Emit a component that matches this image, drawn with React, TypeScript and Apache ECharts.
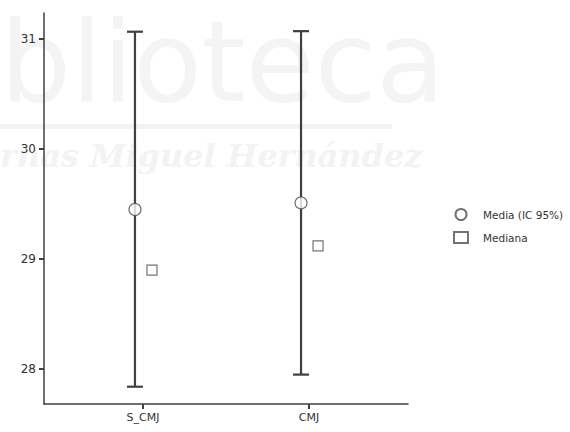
import React, { useEffect, useRef } from "react";
import * as echarts from "echarts";

const categories = ["S_CMJ", "CMJ"];
const ciLow = [27.84, 27.95];
const ciHigh = [31.065, 31.07];
const means = [29.45, 29.51];
const medians = [28.9, 29.12];
const yTicks = [28, 29, 30, 31];

const FONT = "DejaVu Sans";
const DARK = "#404040";

export default function App() {
  const ref = useRef<HTMLDivElement>(null);
  useEffect(() => {
    if (!ref.current) return;
    const chart = echarts.init(ref.current, undefined, { renderer: "svg" });
    const idx = categories.map((_, i) => i);
    chart.setOption({
      animation: false,
      backgroundColor: "#ffffff",
      textStyle: { fontFamily: FONT },
      graphic: [
        {
          type: "text",
          left: 0,
          top: 6,
          z: -10,
          silent: true,
          style: { text: "blioteca", fontSize: 112, fontFamily: "DejaVu Sans", fill: "#f4f4f4" },
        },
        {
          type: "rect",
          z: -10,
          silent: true,
          shape: { x: 0, y: 124, width: 392, height: 5 },
          style: { fill: "#f3f3f3" },
        },
        {
          type: "text",
          left: 0,
          top: 140,
          z: -10,
          silent: true,
          style: {
            text: "rnas Miguel Hernández",
            fontSize: 32,
            fontStyle: "italic",
            fontWeight: "bold",
            fontFamily: "DejaVu Serif",
            fill: "#f3f3f3",
          },
        },
      ],
      grid: { left: 44, right: 162, top: 13, bottom: 28 },
      legend: {
        orient: "vertical",
        left: 448,
        top: 203,
        itemGap: 10,
        itemWidth: 14,
        itemHeight: 11,
        textStyle: { fontFamily: FONT, fontSize: 10.5, color: "#333", padding: [0, 0, 0, 10] },
        data: [
          { name: "Media (IC 95%)", icon: "circle" },
          { name: "Mediana", icon: "rect" },
        ],
      },
      xAxis: {
        type: "value",
        min: -0.596,
        max: 1.596,
        splitLine: { show: false },
        axisLine: { onZero: false, lineStyle: { color: DARK, width: 1.5 } },
        axisTick: { customValues: idx, length: 5, lineStyle: { color: DARK, width: 2 } },
        axisLabel: {
          customValues: idx,
          formatter: (v: number) => categories[Math.round(v)] ?? "",
          color: "#333",
          fontSize: 11,
          fontFamily: FONT,
          margin: 8,
        },
      },
      yAxis: {
        type: "value",
        min: 27.683,
        max: 31.235,
        splitLine: { show: false },
        axisLine: { show: true, onZero: false, lineStyle: { color: DARK, width: 1.5 } },
        axisTick: { customValues: yTicks, length: 5, lineStyle: { color: DARK, width: 2 } },
        axisLabel: { customValues: yTicks, color: "#333", fontSize: 12, fontFamily: FONT, margin: 8 },
      },
      series: [
        {
          type: "custom",
          name: "ci",
          data: idx.map((i) => [i, ciLow[i], ciHigh[i]]),
          renderItem: (params: any, api: any) => {
            const x = api.value(0);
            const lo = api.coord([x, api.value(1)]);
            const hi = api.coord([x, api.value(2)]);
            const cx = lo[0] - 8;
            const hw = 8;
            const st = { stroke: DARK, lineWidth: 2.2 };
            return {
              type: "group",
              children: [
                { type: "line", shape: { x1: cx, y1: lo[1], x2: cx, y2: hi[1] }, style: st },
                { type: "line", shape: { x1: cx - hw, y1: lo[1], x2: cx + hw, y2: lo[1] }, style: st },
                { type: "line", shape: { x1: cx - hw, y1: hi[1], x2: cx + hw, y2: hi[1] }, style: st },
              ],
            };
          },
          z: 2,
        },
        {
          type: "scatter",
          name: "Media (IC 95%)",
          data: idx.map((i) => [i, means[i]]),
          symbol: "circle",
          symbolSize: 12,
          symbolOffset: [-8, 0],
          itemStyle: { color: "#ffffff", borderColor: "#505050", borderWidth: 1.2 },
          z: 3,
        },
        {
          type: "scatter",
          name: "Mediana",
          data: idx.map((i) => [i, medians[i]]),
          symbol: "rect",
          symbolSize: 10,
          symbolOffset: [9, 0],
          itemStyle: { color: "#ffffff", borderColor: "#505050", borderWidth: 1.2 },
          z: 3,
        },
      ],
    });
    return () => chart.dispose();
  }, []);
  return (
    <div
      ref={ref}
      style={{ position: "absolute", left: 0, top: 0, width: 570, height: 432 }}
    />
  );
}
